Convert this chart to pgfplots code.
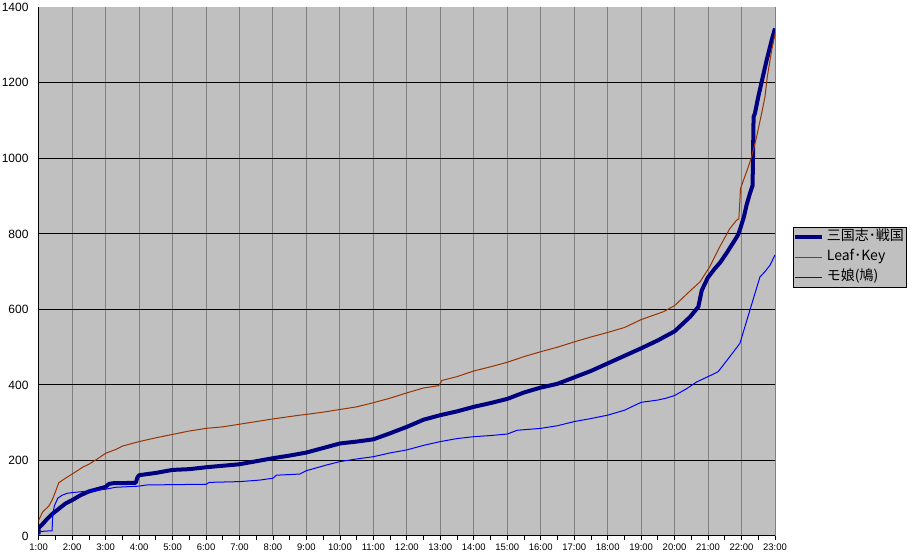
\documentclass[border=0pt]{standalone}
\usepackage{fontspec}
\usepackage{pgfplots}
\pgfplotsset{compat=1.18}
\setmainfont{Liberation Sans}
\newfontfamily\cjk{Noto Sans CJK JP}
\definecolor{plotbg}{RGB}{192,192,192}
\definecolor{navyline}{RGB}{0,0,128}
\definecolor{brownline}{RGB}{153,51,0}
\definecolor{blueline}{RGB}{0,0,255}
\definecolor{vgrid}{RGB}{128,128,128}

\begin{document}
\begin{tikzpicture}
\useasboundingbox (-38.7pt,-20pt) rectangle (878.3pt,536pt);
\begin{axis}[
    at={(0pt,0pt)}, anchor=south west,
    scale only axis,
    width=736.3pt, height=528.7pt,
    xmin=1, xmax=23, ymin=0, ymax=1400,
    axis lines*=left,
    axis line style={black, line width=1pt},
    axis background/.style={fill=plotbg},
    tick align=outside,
    major tick length=4pt,
    minor tick length=4pt,
    xtick={1,...,23},
    xticklabels={1:00,2:00,3:00,4:00,5:00,6:00,7:00,8:00,9:00,10:00,11:00,12:00,
                 13:00,14:00,15:00,16:00,17:00,18:00,19:00,20:00,21:00,22:00,23:00},
    minor x tick num=1,
    xtick style={black, line width=0.8pt},
    xticklabel style={font=\fontsize{9.5}{9.5}\selectfont, inner sep=0pt, yshift=-4pt},
    ytick={200,400,...,1200},
    extra y ticks={0,1400},
    extra y tick style={grid=none},
    ytick style={draw=none},
    yticklabel style={font=\fontsize{12}{12}\selectfont, inner sep=0pt, xshift=-6pt},
    /pgf/number format/assume math mode=true,
    /pgf/number format/set thousands separator={},
    xmajorgrids, ymajorgrids,
    major x grid style={vgrid, line width=1pt},
    major y grid style={black, line width=1pt},
    legend cell align=left,
    legend style={
        at={(rel axis cs:1.0244,0.5845)}, anchor=north west,
        draw=black, line width=0.8pt, fill=plotbg,
        inner sep=0pt, row sep=0pt,
        font=\cjk\fontsize{14}{14}\selectfont,
        nodes={inner xsep=2.5pt, inner ysep=2.5pt, text height=11pt, text depth=4pt},
    },
    legend image code/.code={\draw[#1] (0pt,0pt) -- (27pt,0pt);},
]
\addplot[navyline, line width=4pt, line join=round] coordinates {
    (1.00,5) (1.00,22) (1.10,30) (1.25,45) (1.40,58) (1.60,72) (1.80,86)
    (2.00,95) (2.25,108) (2.50,118) (2.75,124) (3.00,130) (3.10,138)
    (3.25,140) (3.50,140) (3.90,141) (3.95,155) (4.00,161) (4.50,167)
    (5.00,175) (5.50,177) (6.00,182) (6.50,186) (7.00,190) (7.50,198)
    (8.00,206) (8.50,213) (9.00,221) (9.50,233) (10.00,245) (10.50,250)
    (11.00,256) (11.50,272) (12.00,289) (12.50,308) (13.00,320) (13.50,330)
    (14.00,342) (14.50,352) (15.00,363) (15.50,380) (16.00,393) (16.50,403)
    (17.00,420) (17.50,437) (18.00,457) (18.50,477) (19.00,497) (19.50,518)
    (20.00,542) (20.46,580) (20.71,607) (20.81,650) (20.96,678) (21.00,685)
    (21.20,708) (21.36,724) (21.56,750) (21.76,778) (21.90,798) (21.97,816)
    (22.07,845) (22.15,876) (22.25,907) (22.33,928) (22.36,1110) (22.40,1119)
    (22.50,1163) (22.60,1202) (22.75,1260) (22.90,1313) (23.00,1344)
};
\addlegendentry{三国志･戦国}
\addplot[brownline, line width=1pt] coordinates {
    (1.00,35) (1.00,42) (1.12,64) (1.30,79) (1.40,95) (1.50,117) (1.60,141)
    (1.80,153) (2.00,164) (2.33,183) (2.50,190) (2.75,204) (3.00,219)
    (3.30,229) (3.50,238) (4.00,250) (4.50,260) (5.00,269) (5.50,278)
    (6.00,285) (6.50,289) (7.00,296) (7.50,303) (8.00,310) (8.80,320)
    (9.00,322) (9.50,328) (10.00,335) (10.50,342) (11.00,353) (11.50,365)
    (12.00,379) (12.50,392) (12.95,398) (13.05,412) (13.50,422) (14.00,437)
    (14.50,448) (15.00,460) (15.50,475) (16.00,488) (16.50,500) (17.00,514)
    (17.50,527) (18.00,539) (18.50,552) (19.00,573) (19.67,594) (20.00,610)
    (20.26,632) (20.50,652) (20.76,673) (21.05,713) (21.35,766) (21.65,814)
    (21.85,836) (21.92,840) (21.97,920) (22.05,940) (22.20,977) (22.30,1004)
    (22.45,1057) (22.60,1119) (22.70,1163) (22.77,1216) (22.90,1286) (23.00,1330)
};
\addlegendentry{Leaf･Key}
\addplot[blueline, line width=1pt] coordinates {
    (1.00,0) (1.02,10) (1.05,12) (1.40,14) (1.42,58) (1.47,80) (1.57,100)
    (1.70,108) (1.85,113) (2.00,115) (2.50,119) (3.00,124) (3.30,129)
    (4.00,132) (4.20,135) (5.00,136) (6.00,137) (6.10,142) (7.00,144)
    (7.60,148) (8.00,153) (8.10,161) (8.80,164) (9.00,173) (9.60,188)
    (10.00,197) (10.50,204) (11.00,210) (11.50,220) (12.00,228) (12.50,240)
    (13.00,250) (13.50,258) (14.00,263) (14.50,266) (15.00,270) (15.30,280)
    (16.00,285) (16.50,292) (17.00,303) (17.50,311) (18.00,320) (18.50,333)
    (19.00,354) (19.50,360) (19.75,365) (20.00,372) (20.36,390) (20.66,408)
    (21.00,422) (21.30,435) (21.65,475) (21.95,510) (22.55,686) (22.70,700)
    (22.85,717) (23.00,744)
};
\addlegendentry{モ娘(鳩)}
\end{axis}
\end{tikzpicture}
\end{document}
